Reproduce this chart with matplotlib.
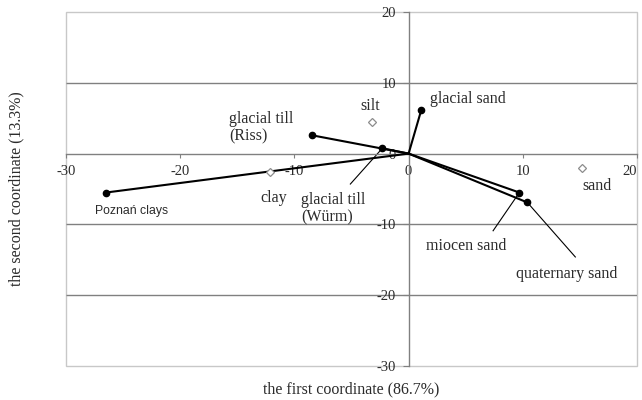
import matplotlib
matplotlib.use("Agg")
import matplotlib.pyplot as plt
from matplotlib.patches import Rectangle

plt.rcParams["axes.unicode_minus"] = False
plt.rcParams["font.family"] = ["Liberation Serif", "DejaVu Serif"]

# soil vectors (first coordinate, second coordinate)
soils = ["Poznań clays", "glacial till\n(Riss)", "glacial till\n(Würm)",
         "glacial sand", "miocen sand", "quaternary sand"]
soil_x = [-26.5, -8.5, -2.3, 1.1, 9.7, 10.4]
soil_y = [-5.5, 2.6, 0.75, 6.1, -5.5, -6.9]

# fraction points (open diamonds)
fractions = ["clay", "silt", "sand"]
frac_x = [-12.1, -3.2, 15.2]
frac_y = [-2.6, 4.4, -2.0]

xticks = [-30, -20, -10, 0, 10, 20]
yticks = [-30, -20, -10, 0, 10, 20]
grid_y = [-20, -10, 10]

# label placement (layout)
soil_text = {
    "Poznań clays": (-27.5, -8.1, "left"),
    "glacial till\n(Riss)": (-15.7, 3.7, "left"),
    "glacial till\n(Würm)": (-9.4, -7.8, "left"),
    "glacial sand": (1.9, 7.7, "left"),
    "miocen sand": (5.0, -13.0, "center"),
    "quaternary sand": (13.8, -17.0, "center"),
}
leaders = {
    "glacial till\n(Würm)": (-5.1, -4.3),
    "miocen sand": (7.4, -10.9),
    "quaternary sand": (14.6, -14.6),
}
frac_text = {"clay": (-11.8, -6.3), "silt": (-3.4, 6.7), "sand": (16.5, -4.6)}

txt = "#2b2b2b"
fig = plt.figure(figsize=(6.42, 4.0), dpi=100)
ax = fig.add_axes([0.1028, 0.085, 0.8894, 0.885])
ax.set_xlim(-30, 20)
ax.set_ylim(-30, 20)

for sp in ["top", "right"]:
    ax.spines[sp].set_visible(False)
for sp in ["left", "bottom"]:
    ax.spines[sp].set_position("zero")
    ax.spines[sp].set_color("#808080")
    ax.spines[sp].set_linewidth(1.0)
ax.add_patch(Rectangle((0, 0), 1, 1, transform=ax.transAxes, fill=False,
                       edgecolor="#c8c8c8", lw=1.0, zorder=0.5, clip_on=False))
ax.hlines(grid_y, -30, 20, colors="#808080", lw=1.0, zorder=0.6)

ax.set_xticks(xticks)
ax.set_yticks(yticks)
ax.tick_params(axis="x", direction="out", length=3, width=0.8, color="#808080",
               pad=5, labelsize=10.5, labelcolor=txt)
ax.tick_params(axis="y", direction="out", length=4, width=0.8, color="#808080",
               pad=5, labelsize=10.5, labelcolor=txt)
# keep the last x tick label inside the figure
ax.get_xticklabels()[-1].set_horizontalalignment("right")

for name, x, y in zip(soils, soil_x, soil_y):
    ax.plot([0, x], [0, y], color="black", lw=1.5, zorder=3, solid_capstyle="round")
    ax.plot(x, y, "o", color="black", ms=4.5, zorder=4)
    tx, ty, ha = soil_text[name]
    if name == "Poznań clays":
        ax.text(tx, ty, name, ha=ha, va="center", fontsize=8.8, color=txt,
                family=["Liberation Sans", "DejaVu Sans"])
    else:
        ax.text(tx, ty, name, ha=ha, va="center", fontsize=11.5, color=txt,
                linespacing=1.15)
    if name in leaders:
        lx, ly = leaders[name]
        ax.plot([lx, x], [ly, y], color="black", lw=0.8, zorder=2)

ax.plot(frac_x, frac_y, "D", ms=4.5, mfc="white", mec="#8c8c8c", mew=0.9,
        ls="none", zorder=5)
for name in fractions:
    tx, ty = frac_text[name]
    ax.text(tx, ty, name, ha="center", va="center", fontsize=11.5, color=txt)

ax.text(0.5, -0.065, "the first coordinate (86.7%)", transform=ax.transAxes,
        ha="center", va="center", fontsize=11.5, color=txt)
fig.text(16 / 642, 0.5275, "the second coordinate (13.3%)", rotation=90,
         ha="center", va="center", fontsize=11.5, color=txt)

fig.savefig("out.png", dpi=100)
